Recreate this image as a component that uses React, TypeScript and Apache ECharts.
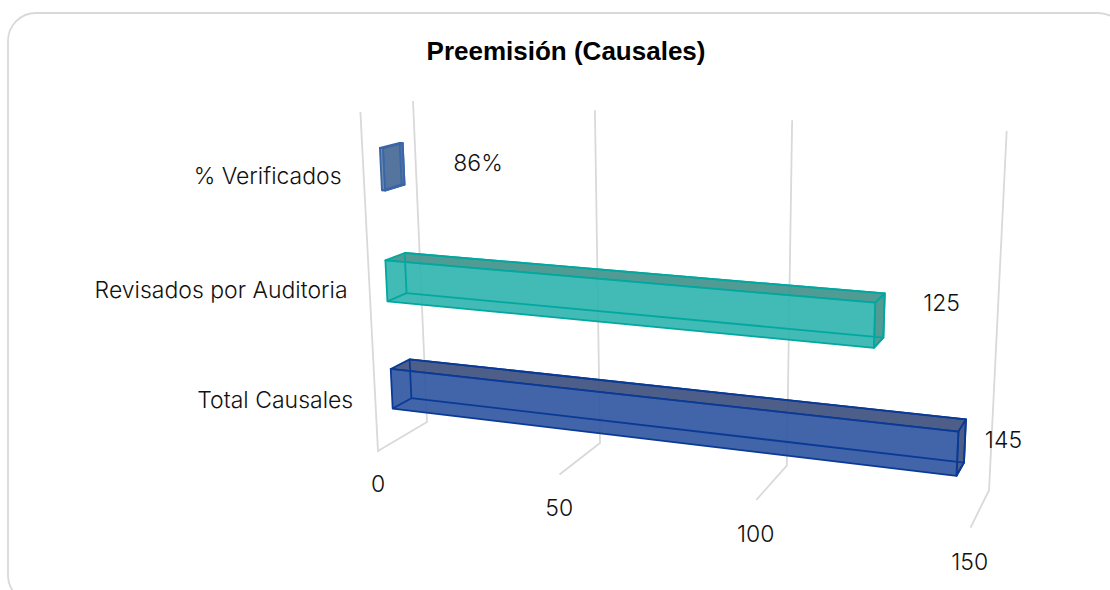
import React, { useEffect, useRef } from "react";
import * as echarts from "echarts";

const titleText = "Preemisión (Causales)";
const categories = ["Total Causales", "Revisados por Auditoria", "% Verificados"];
const values = [145, 125, 0.86];
const valueLabels = ["145", "125", "86%"];
const ticks = [0, 50, 100, 150];

const FONT = "Inter, 'Liberation Sans', sans-serif";
const TITLE_FONT = "'Liberation Sans', Arial, sans-serif";
const TEXT = "#111111";
const GRID = "#d9d9d9";
const GW = 1000;
const GH = 300;

// Bar skins, by category index
const skins = [
  { front: "rgba(44,84,158,0.9)", side: "rgba(62,80,126,0.92)", edge: "#0a3a96" },
  { front: "rgba(46,178,173,0.9)", side: "rgba(66,146,140,0.92)", edge: "#00a8a0" },
  { front: "rgba(94,126,162,0.9)", side: "rgba(70,105,150,0.92)", edge: "#3a66a8" },
];
const labelOffsets = [
  [46, -14],
  [67, -22],
  [94, -6],
];

// Perspective camera of the chart's box: v = axis value, h = 0..1 height, d = 0 back wall .. 1 front
function project(v: number, h: number, d: number): number[] {
  const w = 1 - 0.000737 * v - 0.05 * h - 0.055 * d;
  return [
    (427 + 3.018 * v - 34.65 * h - 69.8 * d) / w,
    (422 + 0.0933 * v - 326.05 * h + 4.2 * d) / w,
  ];
}

const pxToValue = (px: number) => (px / GW) * 150;
const pxToHeight = (py: number) => (1 - py / GH) * 0.99;

const renderGrid = (_: any, api: any) => {
  const v = pxToValue(api.coord([api.value(0), 0])[0]);
  const points = [project(v, 1, 0), project(v, 0, 0), project(v, 0, 1)];
  if (v === 0) points.push(project(v, 1, 1));
  const anchor = project(v, 0, 1);
  return {
    type: "group",
    children: [
      { type: "polyline", shape: { points }, style: { stroke: GRID, lineWidth: 1.8, fill: "none" } },
      {
        type: "text",
        style: {
          text: String(api.value(0)),
          x: anchor[0] - v * 0.006,
          y: anchor[1] + 33 + v * 0.012,
          align: "center",
          verticalAlign: "middle",
          fill: TEXT,
          font: `300 23px ${FONT}`,
        },
      },
    ],
  };
};

const renderBar = (p: any, api: any) => {
  const i = p.dataIndex;
  const pt = api.coord([api.value(0), i]);
  const end = pxToValue(pt[0]);
  const mid = pxToHeight(pt[1]);
  const half = (api.size([0, 1])[1] / GH) * 0.185;
  const lo = mid - half;
  const hi = mid + half;
  const dB = 0.3;
  const dF = 0.68;
  const c = (v: number, h: number, d: number) => project(v, h, d);
  const s = skins[i];
  const frontFace = [c(0, lo, dF), c(0, hi, dF), c(end, hi, dF), c(end, lo, dF)];
  const topFace = [c(0, hi, dF), c(0, hi, dB), c(end, hi, dB), c(end, hi, dF)];
  const rightFace = [c(end, lo, dF), c(end, hi, dF), c(end, hi, dB), c(end, lo, dB)];
  const backFace = [c(0, lo, dB), c(0, hi, dB), c(end, hi, dB), c(end, lo, dB)];
  const edge = { stroke: s.edge, lineWidth: 1.8, lineJoin: "round" };
  const poly = (points: number[][], fill: string) => ({
    type: "polygon",
    shape: { points },
    style: { fill, ...edge },
  });
  const line = (a: number[], b: number[]) => ({
    type: "line",
    shape: { x1: a[0], y1: a[1], x2: b[0], y2: b[1] },
    style: { ...edge, fill: "none" },
  });
  const lab = c(end, mid, dF);
  const catAnchor = c(0, mid, 1);
  return {
    type: "group",
    children: [
      poly(topFace, s.side),
      poly(rightFace, s.side),
      poly(frontFace, s.front),
      poly(backFace, "rgba(0,0,0,0)"),
      line(c(0, lo, dF), c(0, lo, dB)),
      line(c(end, lo, dF), c(end, lo, dB)),
      {
        type: "text",
        style: {
          text: valueLabels[i],
          x: lab[0] + labelOffsets[i][0],
          y: lab[1] + labelOffsets[i][1],
          align: "center",
          verticalAlign: "middle",
          fill: TEXT,
          font: `300 23px ${FONT}`,
        },
      },
      {
        type: "text",
        style: {
          text: categories[i],
          x: catAnchor[0] - 22,
          y: catAnchor[1] + 2,
          align: "right",
          verticalAlign: "middle",
          fill: TEXT,
          font: `300 23px ${FONT}`,
        },
      },
    ],
  };
};

export default function App() {
  const ref = useRef<HTMLDivElement>(null);
  useEffect(() => {
    const chart = echarts.init(ref.current!, null, { renderer: "svg" });
    chart.setOption({
      animation: false,
      backgroundColor: "#ffffff",
      title: {
        text: titleText,
        left: 561,
        top: 33,
        textAlign: "center",
        textStyle: { fontFamily: TITLE_FONT, fontWeight: "bold", fontSize: 26, color: "#000000" },
      },
      graphic: [
        {
          type: "rect",
          z: -1,
          shape: { x: 8, y: 13, width: 1118, height: 590, r: 28 },
          style: { fill: "none", stroke: GRID, lineWidth: 1.8 },
        },
      ],
      grid: { left: 0, top: 0, width: GW, height: GH },
      xAxis: { type: "value", min: 0, max: 150, interval: 50, show: false },
      yAxis: { type: "category", data: categories, show: false },
      series: [
        { type: "custom", renderItem: renderGrid, data: ticks.map((t) => [t]), encode: { x: 0 }, silent: true, z: 1 },
        { type: "custom", renderItem: renderBar, data: values.map((v) => [v]), encode: { x: 0 }, silent: true, z: 2 },
      ],
    });
    return () => chart.dispose();
  }, []);
  return (
    <div
      ref={ref}
      style={{ position: "absolute", left: 0, top: 0, width: 1110, height: 590, overflow: "hidden" }}
    />
  );
}
